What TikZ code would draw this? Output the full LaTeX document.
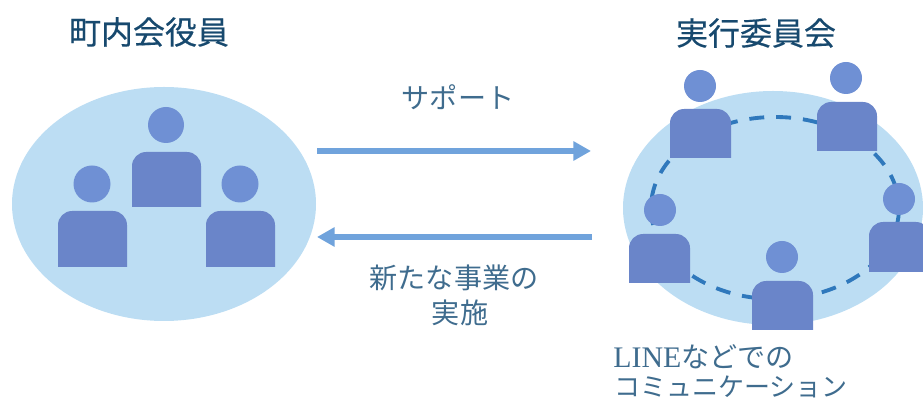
\documentclass[tikz,border=0pt]{standalone}
\usepackage{fontspec}
\usetikzlibrary{arrows.meta}
\newfontfamily\jpfont{Noto Sans CJK JP}
\newfontfamily\jptitlefont[FakeBold=0.4]{Noto Sans CJK JP}
\newfontfamily\latinfont{Liberation Serif}
\definecolor{groupblue}{HTML}{BCDDF3}
\definecolor{headblue}{HTML}{6F90D4}
\definecolor{bodyblue}{HTML}{6A85C9}
\definecolor{ringblue}{HTML}{2F78BC}
\definecolor{flowblue}{HTML}{70A3DC}
\definecolor{titleink}{HTML}{17496E}
\definecolor{labelink}{HTML}{3F6C8E}
\tikzset{
	grouparea/.style={fill=groupblue},
	flowarrow/.style={draw=flowblue, line width=3.4pt, -{Triangle[length=10pt, width=10.5pt]}},
	titletext/.style={inner sep=0pt, text=titleink, font=\jptitlefont\fontsize{18.2}{20}\selectfont},
	labeltext/.style={inner sep=0pt, text=labelink, align=center, font=\jpfont\fontsize{16}{20}\selectfont},
	smalltext/.style={labeltext, font=\jpfont\fontsize{14.8}{20}\selectfont}
}
% head x, head y, head radius : body left, top, right, bottom
\def\person(#1,#2,#3)(#4,#5,#6,#7){
	\fill[headblue] (#1, #2) circle (#3);
	\fill[bodyblue] (#4, #7) [rounded corners=8pt] -- (#4, #5) -- (#6, #5) [sharp corners] -- (#6, #7) -- cycle;
}
\begin{document}
\begin{tikzpicture}[x=0.02cm, y=-0.02cm]
	\useasboundingbox (0, 0) rectangle (923, 401);
	\clip (0, 0) rectangle (923, 401);
	%%%%% LEFT GROUP %%%%%
	\node[titletext] (leftTitle) at (149, 32) {町内会役員};
	\fill[grouparea] (164, 204) ellipse (152 and 117);
	\person(166, 125, 18)(132, 152, 201, 207);
	\person(92, 184, 18.5)(58, 211, 127, 267);
	\person(240, 184, 18.5)(206, 211, 275, 267);
	
	%%%%% RIGHT GROUP %%%%%
	\node[titletext] (rightTitle) at (756, 33) {実行委員会};
	\fill[grouparea] (773, 208) ellipse (150 and 117);
	\draw[ringblue, line width=2.2pt, dash pattern=on 8.5pt off 6.8pt] (775, 208) ellipse (124 and 91);
	\person(700, 86, 16)(670, 109, 731, 158);
	\person(846, 78, 16)(817, 102, 877, 151);
	\person(899, 199, 16)(869, 222, 930, 272);
	\person(660, 210, 16)(629, 234, 690, 283);
	\person(782, 257, 16)(752, 281, 813, 330);
	\node[labeltext, anchor=west] (lineLabel) at (613, 357) {{\latinfont\fontsize{17}{20}\selectfont LINE}などでの};
	\node[smalltext, anchor=west] (commLabel) at (614, 387) {コミュニケーション};
	
	%%%%% ARROWS %%%%%
	\coordinate (supportTail) at (317, 151);
	\coordinate (supportTip) at (591, 151);
	\coordinate (newTail) at (592, 237);
	\coordinate (newTip) at (317, 237);
	\draw[flowarrow] (supportTail) -- (supportTip);
	\draw[flowarrow] (newTail) -- (newTip);
	\node[labeltext] (supportLabel) at (458, 97) {サポート};
	\node[labeltext] (newLabel) at (454, 278) {新たな事業の};
	\node[labeltext] (doLabel) at (460, 313) {実施};
\end{tikzpicture}
\end{document}
